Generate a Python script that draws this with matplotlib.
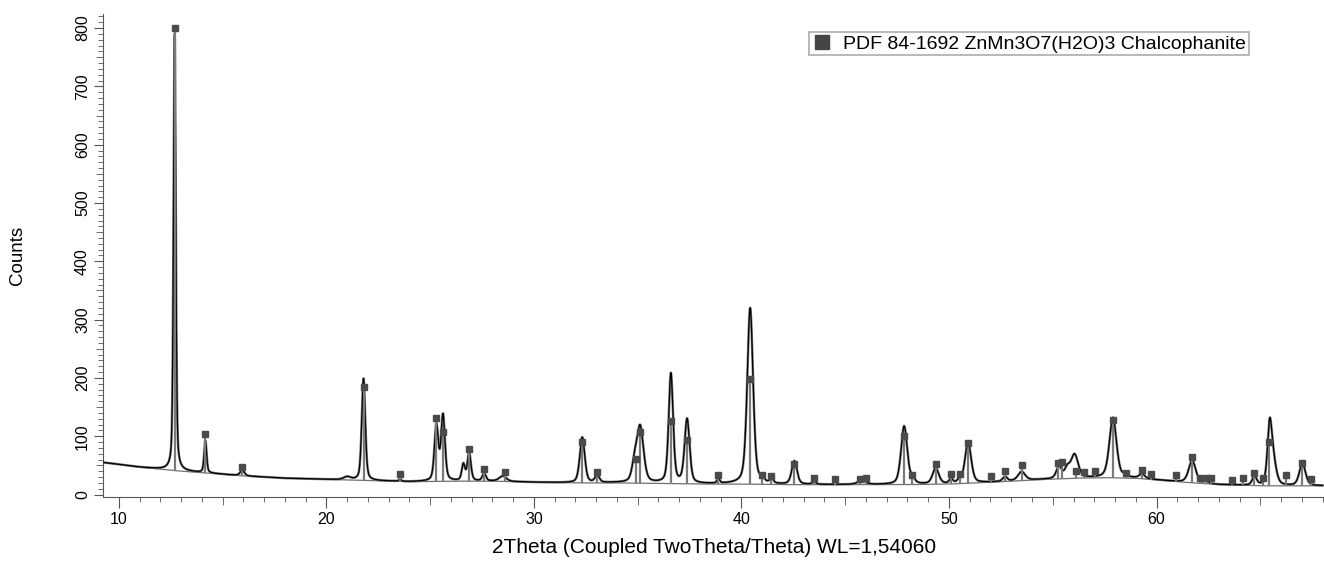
import numpy as np
import matplotlib
matplotlib.use("Agg")
import matplotlib.pyplot as plt
from matplotlib.lines import Line2D
from matplotlib.ticker import MultipleLocator

plt.rcParams['font.family'] = ['Liberation Sans', 'DejaVu Sans']

# background (2theta, counts)
bg_x = [9.25, 11, 12.7, 14.2, 16, 18, 20, 22, 24, 26, 28, 30, 32, 34, 36, 38, 40,
        42, 44, 46, 48, 50, 52, 54, 56, 57.5, 59, 61, 63, 65, 68]
bg_y = [55, 47, 41, 37, 32, 28, 26, 24, 22, 23, 23, 21, 20, 20, 19, 18, 18,
        17, 17, 17, 17, 18, 21, 25, 28, 29, 28, 22, 17, 15, 15]

# measured peaks: position, height above background, fwhm
peak_pos = [12.69, 14.17, 15.95, 21.0, 21.79, 23.55, 25.30, 25.62, 26.60, 26.88,
            27.60, 28.50, 32.33, 33.05, 34.85, 35.12, 36.60, 37.38, 38.89, 40.42,
            41.00, 41.45, 42.55, 43.50, 45.80, 47.84, 48.25, 49.36, 50.10, 50.50,
            50.92, 52.70, 53.50, 55.30, 55.70, 56.05, 57.90, 58.50, 59.30, 61.72,
            62.40, 64.72, 65.45, 65.62, 67.03]
peak_h = [750, 55, 9, 5, 175, 4, 95, 112, 28, 48,
          13, 9, 78, 12, 28, 95, 188, 110, 8, 302,
          8, 8, 40, 5, 6, 100, 8, 27, 8, 6,
          70, 8, 15, 20, 16, 40, 103, 6, 8, 38,
          4, 15, 95, 40, 38]
peak_w = [0.13, 0.14, 0.25, 0.4, 0.2, 0.12, 0.22, 0.22, 0.18, 0.2,
          0.2, 0.4, 0.28, 0.25, 0.3, 0.38, 0.25, 0.28, 0.15, 0.33,
          0.2, 0.2, 0.3, 0.2, 0.5, 0.35, 0.25, 0.35, 0.2, 0.2,
          0.35, 0.25, 0.4, 0.3, 0.3, 0.4, 0.4, 0.2, 0.3, 0.4,
          0.2, 0.25, 0.25, 0.35, 0.35]

# PDF 84-1692 reference lines: position, counts
ref_pos = [12.69, 14.15, 15.95, 21.79, 23.54, 25.30, 25.62, 26.86, 27.58, 28.61,
           32.31, 33.05, 34.90, 35.10, 36.60, 37.38, 38.89, 40.40, 41.00, 41.44,
           42.55, 43.51, 44.49, 45.69, 45.98, 47.84, 48.22, 49.36, 50.09, 50.54,
           50.92, 52.04, 52.72, 53.54, 55.27, 55.43, 56.12, 56.50, 57.05, 57.90,
           58.51, 59.28, 59.73, 60.93, 61.72, 62.08, 62.45, 62.63, 63.63, 64.19,
           64.72, 65.12, 65.44, 66.26, 67.01, 67.43]
ref_counts = [800, 103, 48, 184, 36, 131, 107, 78, 44, 39,
              90, 39, 61, 107, 127, 94, 33, 198, 33, 32,
              53, 29, 26, 26, 29, 100, 34, 52, 36, 35,
              88, 32, 40, 50, 54, 56, 40, 39, 41, 128,
              37, 42, 35, 34, 65, 29, 28, 28, 25, 28,
              37, 29, 90, 34, 54, 26]

legend_label = "PDF 84-1692 ZnMn3O7(H2O)3 Chalcophanite"


def pvoigt(x, c, h, w, eta=0.4):
    g = np.exp(-4 * np.log(2) * ((x - c) / w) ** 2)
    l = 1 / (1 + 4 * ((x - c) / w) ** 2)
    return h * (eta * l + (1 - eta) * g)


tt = np.linspace(bg_x[0], bg_x[-1], 6000)
bg = np.interp(tt, bg_x, bg_y)
prof = bg.copy()
for c, h, w in zip(peak_pos, peak_h, peak_w):
    prof += pvoigt(tt, c, h, w)

fig = plt.figure(figsize=(13.24, 5.64), dpi=100)
ax = fig.add_axes([0.078, 0.119, 0.922, 0.856])

ax.plot(tt, prof, color='#808080', lw=1.8, zorder=2)
ax.plot(tt, prof, color='black', lw=0.9, zorder=3)
ax.plot(tt, bg, color='#707070', lw=0.9, zorder=2)

# sticks from background up to the reference marker
ref_bg = np.interp(ref_pos, bg_x, bg_y)
ax.vlines(ref_pos, ref_bg, np.array(ref_counts) - 6, color='#7a7a7a', lw=1.6, zorder=4)
ax.plot(ref_pos, ref_counts, 's', color='#4a4a4a', ms=5, ls='none', zorder=5)

ax.set_xlim(9.25, 68.07)
ax.set_ylim(-4, 824)

ax.spines['top'].set_visible(False)
ax.spines['right'].set_visible(False)
for s in ['left', 'bottom']:
    ax.spines[s].set_color('#555555')

ax.xaxis.set_major_locator(MultipleLocator(10))
ax.xaxis.set_minor_locator(MultipleLocator(1))
ax.yaxis.set_major_locator(MultipleLocator(100))
ax.yaxis.set_minor_locator(MultipleLocator(10))
ax.tick_params(axis='x', which='major', length=8, color='#555555', labelsize=11.5, pad=3)
ax.tick_params(axis='y', which='major', length=6.5, color='#555555', labelsize=11.5, pad=3)
ax.tick_params(axis='both', which='minor', length=3.5, color='#555555')

# medium ticks on the fives
for t, loc in zip(ax.xaxis.get_minor_ticks(), ax.xaxis.get_minorticklocs()):
    if abs(loc % 10 - 5) < 1e-6:
        t.tick1line.set_markersize(5.5)
for t, loc in zip(ax.yaxis.get_minor_ticks(), ax.yaxis.get_minorticklocs()):
    if abs(loc % 100 - 50) < 1e-6:
        t.tick1line.set_markersize(5)

plt.setp(ax.get_yticklabels(), rotation=90, va='center')

ax.set_xlabel("2Theta (Coupled TwoTheta/Theta) WL=1,54060", fontsize=15, labelpad=8)
ax.set_ylabel("Counts", fontsize=13.5)
ax.yaxis.set_label_coords(-0.063, 0.5)

handle = Line2D([], [], marker='s', color='#454545', ls='none', ms=10.5)
leg = ax.legend([handle], [legend_label], loc='upper right',
                bbox_to_anchor=(1249 / 1324, 1 - 32 / 564), bbox_transform=fig.transFigure,
                fontsize=14, frameon=True, fancybox=False, borderpad=0.15,
                borderaxespad=0, handletextpad=0.6, handlelength=1.0)
leg.get_frame().set_edgecolor('#a0a0a0')
leg.get_frame().set_linewidth(1.3)

fig.savefig("out.png", dpi=100)
